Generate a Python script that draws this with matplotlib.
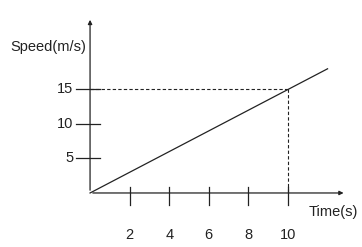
import matplotlib.pyplot as plt

# datos
time = [0, 10, 12]
speed = [0, 15, 18]
x_ticks = [2, 4, 6, 8, 10]
y_ticks = [5, 10, 15]
mark_t, mark_v = 10, 15

plt.rcParams['font.family'] = ['Liberation Sans', 'DejaVu Sans']

fig = plt.figure(figsize=(3.62, 2.47), dpi=100)
ax = fig.add_axes([0, 0, 1, 1])
ax.set_xlim(-4.55, 13.74)
ax.set_ylim(-7.83, 27.97)
ax.axis('off')

c = '#222222'
fs = 10.5
# ejes con flecha
ax.annotate('', xy=(12.95, 0), xytext=(0, 0),
            arrowprops=dict(arrowstyle='-|>', color=c, lw=0.9, mutation_scale=6))
ax.annotate('', xy=(0, 25.5), xytext=(0, 0),
            arrowprops=dict(arrowstyle='-|>', color=c, lw=0.9, mutation_scale=6))

# recta
ax.plot(time, speed, color=c, lw=0.9)

# lineas punteadas
ax.plot([0, mark_t], [mark_v, mark_v], color=c, lw=0.8, ls=(0, (3, 2)))
ax.plot([mark_t, mark_t], [mark_v, 0], color=c, lw=0.8, ls=(0, (3, 2)))

# marcas eje x
for t in x_ticks:
    ax.plot([t, t], [0.9, -1.75], color=c, lw=0.9)
    ax.text(t, -6.1, str(t), ha='center', va='center', fontsize=fs, color=c)

# marcas eje y
for v in y_ticks:
    ax.plot([-0.7, 0.5], [v, v], color=c, lw=0.9)
    ax.text(-0.85, v, str(v), ha='right', va='center', fontsize=fs, color=c)

ax.text(-4.05, 21.2, 'Speed(m/s)', ha='left', va='center', fontsize=fs, color=c)
ax.text(11.05, -2.75, 'Time(s)', ha='left', va='center', fontsize=fs, color=c)

fig.savefig('out.png', dpi=100)
